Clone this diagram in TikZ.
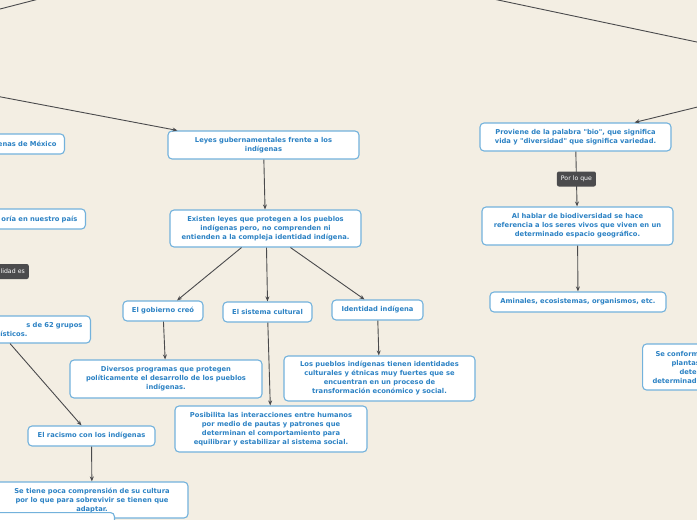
\documentclass[tikz,border=0pt]{standalone}
\usepackage{fontspec}
\usetikzlibrary{arrows.meta,positioning}
\newfontfamily\mapfont{DejaVu Sans}
\definecolor{paper}{HTML}{F3EEE3}
\definecolor{boxblue}{HTML}{73B2DC}
\definecolor{txtblue}{HTML}{2C82C4}
\definecolor{linegray}{HTML}{4A4A4C}
\definecolor{tagfill}{HTML}{4B4B4D}

\begin{document}
\begin{tikzpicture}[x=1pt,y=-1pt,
  bx/.style={rounded corners=4pt,draw=boxblue,fill=white,line width=1.1pt,
    align=center,inner sep=2pt,text=txtblue,
    font=\mapfont\bfseries\fontsize{6.75}{9}\selectfont},
  lb/.style={rounded corners=2pt,fill=tagfill,text=white,inner xsep=4pt,
    minimum height=15pt,font=\mapfont\fontsize{6.2}{7}\selectfont},
  ln/.style={line width=0.9pt,linegray},
  a/.style={-{Stealth[length=5pt,width=4pt]},line width=0.9pt,linegray}]
\useasboundingbox (0,0) rectangle (697,520);
\fill[paper] (0,0) rectangle (697,520);
\clip (0,0) rectangle (697,520);
% left column, cut at the border
\node[bx,anchor=east,text width=150pt,align=right,inner xsep=8pt,minimum height=20pt] (mex) at (65,144) {enas de México};
\node[bx,anchor=east,text width=150pt,align=right,inner xsep=8pt,minimum height=20pt] (pais) at (86,219) {oría en nuestro país};
\node[lb,anchor=east,text width=60pt,align=right] (dad) at (29,271.5) {ilidad es};
\node[bx,anchor=east,text width=150pt,align=right,inner xsep=8pt,minimum height=27pt] (grp) at (91,329.5)
  {s de 62 grupos\hspace*{27pt}\\ ísticos.\hspace*{55pt}};
\node[bx,minimum width=127pt,minimum height=20pt] (rac) at (91.5,436) {El racismo con los indígenas};
\node[bx,minimum width=192pt,minimum height=36pt] (comp) at (92,500)
  {Se tiene poca comprensión de su cultura\\ por lo que para sobrevivir se tienen que\\ adaptar.};
\node[bx,anchor=north east,minimum width=150pt,minimum height=30pt] (low) at (115,512) {};
% leyes
\node[bx,minimum width=191pt,minimum height=28pt] (leyes) at (263.5,145)
  {Leyes gubernamentales frente a los\\ indígenas};
\node[bx,minimum width=191pt,minimum height=37pt] (exist) at (265.5,228.5)
  {Existen leyes que protegen a los pueblos\\ indígenas pero, no comprenden ni\\ entienden a la compleja identidad indígena.};
\node[bx,minimum width=80pt,minimum height=20pt] (gob) at (163,311) {El gobierno creó};
\node[bx,minimum width=89pt,minimum height=20pt] (sist) at (267.5,312) {El sistema cultural};
\node[bx,minimum width=91pt,minimum height=20pt] (ident) at (377.5,310) {Identidad indígena};
\node[bx,minimum width=192pt,minimum height=38pt] (prog) at (166,379)
  {Diversos programas que protegen\\ políticamente el desarrollo de los pueblos\\ indígenas.};
\node[bx,minimum width=191pt,minimum height=45pt] (trans) at (379.5,378.5)
  {Los pueblos indígenas tienen identidades\\ culturales y étnicas muy fuertes que se\\ encuentran en un proceso de\\ transformación económico y social.};
\node[bx,minimum width=192pt,minimum height=46pt] (pos) at (271,429)
  {Posibilita las interacciones entre humanos\\ por medio de pautas y patrones que\\ determinan el comportamiento para\\ equilibrar y estabilizar al sistema social.};
% biodiversidad
\node[bx,minimum width=191pt,minimum height=28pt] (bio) at (575.5,137)
  {Proviene de la palabra "bio", que significa\\ vida y "diversidad" que significa variedad.};
\node[bx,minimum width=191pt,minimum height=38pt] (hab) at (577.5,226)
  {Al hablar de biodiversidad se hace\\ referencia a los seres vivos que viven en un\\ determinado espacio geográfico.};
\node[bx,minimum width=176pt,minimum height=20pt] (ani) at (578,302) {Aminales, ecosistemas, organismos, etc.};
\node[bx,anchor=west,text width=150pt,align=left,inner xsep=8pt,minimum height=46pt] (conf) at (642,367)
  {\hspace*{5pt}Se conform\\ \hspace*{21pt}plantas\\ \hspace*{29pt}deter\\ \hspace*{2pt}determinad};
% connectors
\coordinate (t1) at (-10,11.6); \coordinate (t2) at (45,-2.6);
\coordinate (t3) at (480,-3.8); \coordinate (t4) at (720,46.9);
\coordinate (in1) at (-20,93); \coordinate (in2) at (720,101.5);
\draw[ln] (t1)--(t2); \draw[ln] (t3)--(t4);
\draw[a] (in1)--([xshift=10pt]leyes.north west);
\draw[a] (in2)--([xshift=-37pt]bio.north east);
\draw[a] (leyes)--(exist);
\draw[a] ([xshift=-24pt]exist.south)--([xshift=14pt]gob.north);
\draw[a] ([xshift=1pt]exist.south)--(sist.north);
\draw[a] ([xshift=25pt]exist.south)--([xshift=-13pt]ident.north);
\draw[a] (gob)--(prog); \draw[a] (sist)--(pos); \draw[a] (ident)--(trans);
\draw[a] ([xshift=-81pt]grp.south east)--([xshift=-10pt]rac.north);
\draw[a] (rac)--(comp);
\draw[a] (bio)--node[lb] (porq) {Por lo que}(hab);
\draw[a] (hab)--(ani);
\end{tikzpicture}
\end{document}
